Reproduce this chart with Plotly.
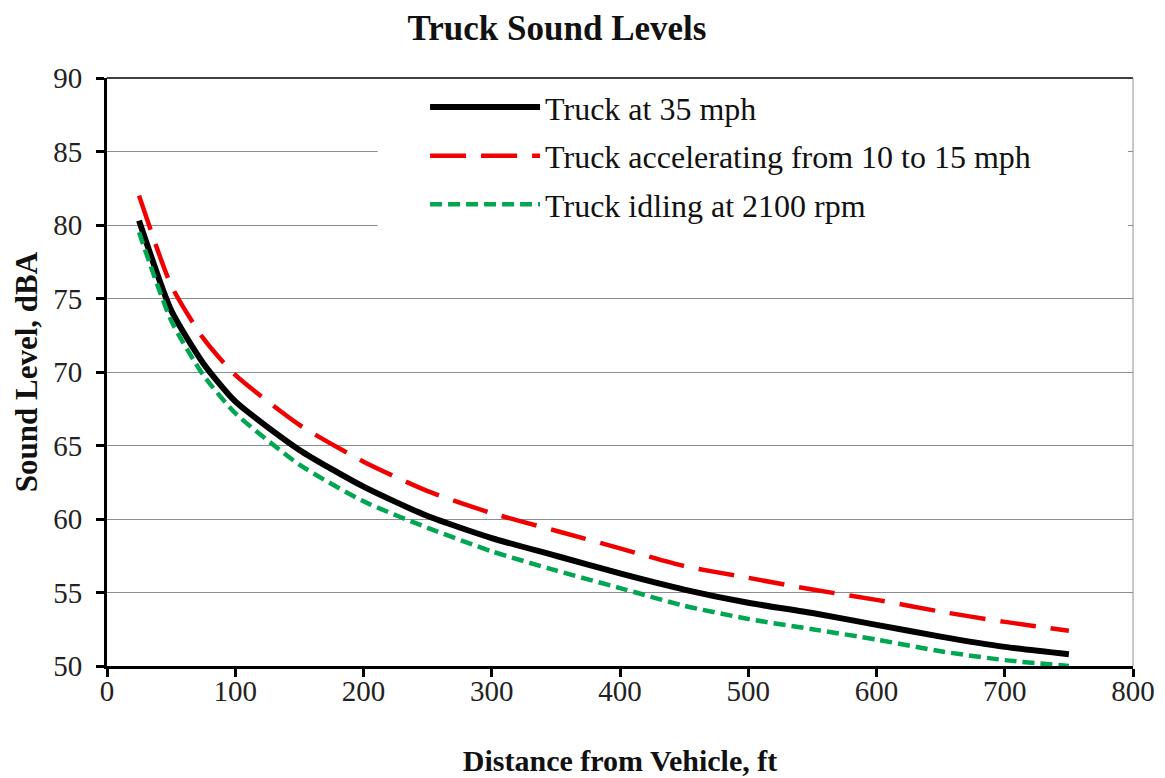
import plotly.graph_objects as go

distance_ft = [25, 50, 75, 100, 150, 200, 250, 300, 350, 400, 450, 500, 550, 600, 650, 700, 750]
truck_35mph = [80.3, 74.2, 70.6, 68.0, 64.7, 62.2, 60.2, 58.7, 57.5, 56.3, 55.2, 54.3, 53.6, 52.8, 52.0, 51.3, 50.8]
truck_accel = [82.0, 75.9, 72.3, 69.8, 66.4, 63.9, 61.9, 60.4, 59.2, 58.0, 56.8, 56.0, 55.2, 54.5, 53.7, 53.0, 52.4]
truck_idle = [79.5, 73.5, 69.8, 67.2, 63.7, 61.2, 59.4, 57.8, 56.5, 55.3, 54.1, 53.2, 52.5, 51.8, 51.0, 50.4, 50.0]

names = ["Truck at 35 mph", "Truck accelerating from 10 to 15 mph", "Truck idling at 2100 rpm"]
x_ticks = [0, 100, 200, 300, 400, 500, 600, 700, 800]
y_ticks = [50, 55, 60, 65, 70, 75, 80, 85, 90]

SERIF = "Liberation Serif, Times New Roman, serif"

fig = go.Figure()
fig.add_trace(go.Scatter(x=distance_ft, y=truck_35mph, name=names[0], mode="lines",
                         legendgroup="a",
                         line=dict(color="#000000", width=6, shape="spline", smoothing=0.6)))
fig.add_trace(go.Scatter(x=distance_ft, y=truck_accel, name=names[1], mode="lines",
                         legendgroup="b",
                         line=dict(color="#f00000", width=4.5, dash="36px,15px", shape="spline", smoothing=0.6)))
fig.add_trace(go.Scatter(x=distance_ft, y=truck_idle, name=names[2], mode="lines",
                         legendgroup="c",
                         line=dict(color="#00a651", width=4.5, dash="12px,6px", shape="spline", smoothing=0.6)))

# white legend area hiding gridlines
fig.add_shape(type="rect", xref="x", yref="y", x0=211, x1=796, y0=79.3, y1=90,
              fillcolor="white", line=dict(width=0), layer="between")
# top border and right border
fig.add_shape(type="line", xref="paper", yref="paper", x0=0, x1=1, y0=1, y1=1,
              line=dict(color="#404040", width=2), layer="above")
fig.add_shape(type="line", xref="paper", yref="paper", x0=1, x1=1, y0=0, y1=1,
              line=dict(color="#909090", width=1), layer="above")

fig.update_layout(
    width=1157, height=770,
    margin=dict(l=99, r=32, t=70, b=112, autoexpand=False),
    paper_bgcolor="white", plot_bgcolor="white",
    font=dict(family=SERIF, color="#111111"),
    title=dict(text="<b>Truck Sound Levels</b>", x=0.4745, xanchor="center", y=0.975, yanchor="middle",
               font=dict(family=SERIF, size=35, color="#111111")),
    showlegend=True,
    legend=dict(x=0.31, xanchor="left", y=0.997, yanchor="top",
                bgcolor="rgba(0,0,0,0)", borderwidth=0,
                font=dict(family=SERIF, size=32, color="#111111"),
                itemwidth=110, tracegroupgap=4),
    xaxis=dict(range=[0, 800], tickvals=x_ticks, ticktext=[str(v) for v in x_ticks],
               showgrid=False, zeroline=False, automargin=False,
               showline=True, linecolor="#000000", linewidth=3,
               ticks="outside", ticklen=8, tickwidth=3, tickcolor="#000000",
               ticklabelstandoff=-11,
               tickfont=dict(family=SERIF, size=29, color="#222222"),
               title=dict(text="<b>Distance from Vehicle, ft</b>", standoff=45,
                          font=dict(family=SERIF, size=30, color="#111111"))),
    yaxis=dict(range=[50, 90], tickvals=y_ticks, ticktext=[str(v) for v in y_ticks],
               showgrid=True, gridcolor="#8c8c8c", gridwidth=1, zeroline=False, automargin=False,
               showline=True, linecolor="#000000", linewidth=3,
               ticks="outside", ticklen=8, tickwidth=3, tickcolor="#000000",
               ticklabelstandoff=8,
               tickfont=dict(family=SERIF, size=29, color="#222222"),
               title=dict(text="<b>Sound Level, dBA</b>", standoff=7,
                          font=dict(family=SERIF, size=31, color="#111111"))),
)

fig.write_html("out.html")
